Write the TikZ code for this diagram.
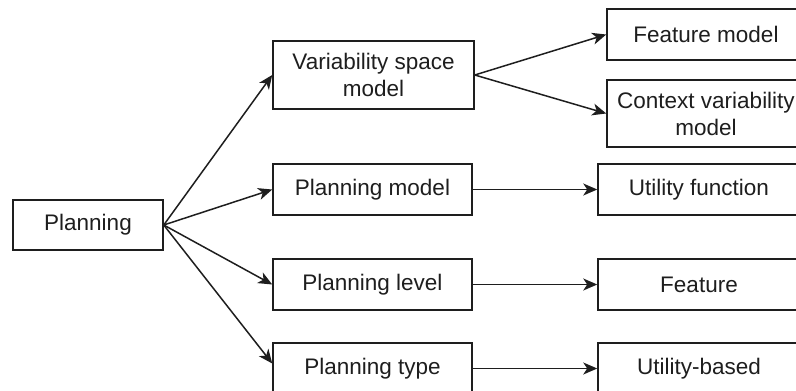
\documentclass[tikz,border=0pt]{standalone}
\usepackage{fontspec}
\setmainfont{Liberation Sans}
\usetikzlibrary{arrows.meta}
\definecolor{ln}{HTML}{1E1E1E}
\tikzset{
  box/.style={draw=ln, line width=1.5pt, fill=white, inner sep=0pt, align=center,
    font=\fontsize{22.5}{27}\selectfont, text=ln},
  arr/.style={draw=ln, line width=1.5pt, -{Stealth[length=14pt,width=12pt,inset=4pt]}}
}
\begin{document}
\begin{tikzpicture}[x=1pt,y=-1pt]
\useasboundingbox (0,0) rectangle (796,391);
\clip (0,0) rectangle (796,391);
\node[box, minimum width=150pt, minimum height=50pt] (plan) at (88,225) {Planning};
\node[box, minimum width=201pt, minimum height=68pt] (vsm) at (373.5,75) {Variability space\\model};
\node[box, minimum width=199pt, minimum height=51pt] (pm) at (372.5,189.5) {Planning model};
\node[box, minimum width=199pt, minimum height=51pt] (pl) at (372.5,284.5) {Planning level};
\node[box, minimum width=199pt, minimum height=51pt] (pt) at (372.5,368.5) {Planning type};
\node[box, minimum width=198pt, minimum height=51pt] (fm) at (706,34.5) {Feature model};
\node[box, minimum width=198pt, minimum height=67pt] (cvm) at (706,113.5) {Context variability\\model};
\node[box, minimum width=202pt, minimum height=51pt] (uf) at (699,189.5) {Utility function};
\node[box, minimum width=202pt, minimum height=51pt] (fe) at (699,284.5) {Feature};
\node[box, minimum width=202pt, minimum height=51pt] (ub) at (699,368.5) {Utility-based};
\draw[arr] (plan.east) -- (vsm.west);
\draw[arr] (plan.east) -- (pm.west);
\draw[arr] (plan.east) -- (pl.west);
\draw[arr] (plan.east) -- ([yshift=5pt]pt.west);
\draw[arr] (vsm.east) -- (fm.west);
\draw[arr] (vsm.east) -- (cvm.west);
\draw[arr] (pm.east) -- (uf.west);
\draw[arr] (pl.east) -- (fe.west);
\draw[arr] (pt.east) -- (ub.west);
\end{tikzpicture}
\end{document}
